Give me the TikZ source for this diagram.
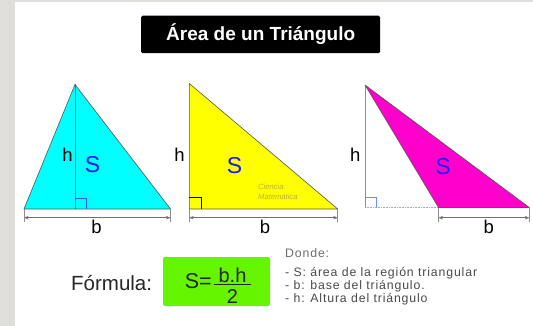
\documentclass[tikz,border=0pt]{standalone}
\usepackage{fontspec}
\setmainfont{Liberation Sans}
\usetikzlibrary{arrows.meta}
\definecolor{bggray}{HTML}{E0DEDA}
\definecolor{cyanfill}{HTML}{00FFFF}
\definecolor{yellowfill}{HTML}{FFFF00}
\definecolor{magentafill}{HTML}{FF00CC}
\definecolor{greenbox}{HTML}{66F500}
\definecolor{slabel}{HTML}{1A1AF0}
\definecolor{hline}{HTML}{2266FF}
\definecolor{hlinelight}{HTML}{7788FF}
\definecolor{outline}{HTML}{555555}
\definecolor{dimgray}{HTML}{707070}
\definecolor{txtgray}{HTML}{4A4A4A}
\definecolor{wmark}{HTML}{BDAE3A}
\tikzset{
  tri/.style={draw=outline, line width=0.6pt, line join=round},
  hgt/.style={draw=hline, line width=0.7pt},
  rangle/.style={line width=0.6pt},
  dim/.style={draw=dimgray, line width=0.6pt, {Stealth[length=4.5pt,width=3.5pt]}-{Stealth[length=4.5pt,width=3.5pt]}},
  tick/.style={draw=dimgray!80, line width=0.6pt},
  lbl/.style={inner sep=0pt, font=\fontsize{18.5}{20}\selectfont, text=black},
  slbl/.style={inner sep=0pt, font=\fontsize{23}{24}\selectfont, text=slabel},
  small/.style={inner sep=0pt, anchor=west, text=txtgray, font=\fontsize{12.3}{13}\selectfont\addfontfeature{LetterSpace=7}},
}
\begin{document}
\begin{tikzpicture}[x=1pt,y=-1pt]
\useasboundingbox (0,0) rectangle (533,326);
\fill[bggray] (0,0) rectangle (533,326);
\fill[white] (15,2.5) rectangle (533,326);

% title
\node[fill=black, rounded corners=1.5pt, minimum width=239pt, minimum height=37.5pt, inner sep=0pt,
      text=white, font=\bfseries\fontsize{19}{20}\selectfont] (title) at (260.7,34.5) {Área de un Triángulo};

% ---- triangle 1 (cyan)
\coordinate (c1a) at (75,84.5);
\coordinate (c1l) at (24,209);
\coordinate (c1r) at (170.5,209);
\coordinate (c1f) at (75,209);
\fill[cyanfill] (c1a) -- (c1l) -- (c1r) -- cycle;
\draw[hgt] (c1a) -- (c1f);
\draw[hline, rangle] (75,198.5) -- (86,198.5) -- (86,209);
\draw[tri] (c1a) -- (c1l) -- (c1r) -- cycle;
\draw[tick] (c1l) -- ++(0,13);
\draw[tick] (c1r) -- ++(0,13);
\coordinate (c1dl) at (24,217.7);
\coordinate (c1dr) at (170.5,217.7);
\draw[dim] (c1dl) -- (c1dr);
\node[lbl] (h1) at (67.5,155) {h};
\node[slbl] (s1) at (92.5,165) {S};
\node[lbl] (b1) at (96.5,227) {b};

% ---- triangle 2 (yellow)
\coordinate (c2a) at (189.3,83.5);
\coordinate (c2l) at (189.3,209);
\coordinate (c2r) at (337.7,209);
\fill[yellowfill] (c2a) -- (c2l) -- (c2r) -- cycle;
\draw[black, rangle] (189.3,197.5) -- (201,197.5) -- (201,209);
\draw[tri] (c2a) -- (c2l) -- (c2r) -- cycle;
\draw[tick] (c2l) -- ++(0,13);
\draw[tick] (c2r) -- ++(0,13);
\coordinate (c2dl) at (189.3,217.7);
\coordinate (c2dr) at (337.7,217.7);
\draw[dim] (c2dl) -- (c2dr);
\node[lbl] (h2) at (179.5,155) {h};
\node[slbl] (s2) at (234.5,166) {S};
\node[lbl] (b2) at (265,227) {b};
\node[inner sep=0pt, text=wmark, font=\itshape\fontsize{7.6}{9.5}\selectfont, align=left, anchor=west] (wm) at (258,192) {Ciencia\\Matemática};

% ---- triangle 3 (magenta)
\coordinate (c3a) at (365,85);
\coordinate (c3l) at (438.5,207.5);
\coordinate (c3r) at (529.3,207.5);
\coordinate (c3f) at (365,207.5);
\draw[draw=gray!70, line width=0.6pt, densely dotted] (c3f) -- (c3l);
\draw[draw=hlinelight, line width=0.7pt] (c3a) -- (c3f);
\draw[hlinelight, rangle] (365,197.5) -- (376.5,197.5) -- (376.5,207.5);
\fill[magentafill] (c3a) -- (c3l) -- (c3r) -- cycle;
\draw[tri] (c3a) -- (c3l) -- (c3r) -- cycle;
\draw[tick] (c3l) -- ++(0,14);
\draw[tick] (c3r) -- ++(0,14);
\coordinate (c3dl) at (438.5,217.7);
\coordinate (c3dr) at (529.3,217.7);
\draw[dim] (c3dl) -- (c3dr);
\node[lbl] (h3) at (355.3,155) {h};
\node[slbl] (s3) at (443,167) {S};
\node[lbl] (b3) at (488.7,227) {b};

% ---- formula
\node[inner sep=0pt, text=black!85, font=\fontsize{20.5}{22}\selectfont, anchor=west] (form) at (71,283.5) {Fórmula:};
\node[fill=greenbox, rounded corners=2pt, minimum width=107pt, minimum height=49pt, inner sep=0pt] (gbox) at (216.5,281.5) {};
\node[inner sep=0pt, text=black!85, font=\fontsize{21.5}{22}\selectfont, anchor=east] (seq) at (212,281) {S=};
\node[inner sep=0pt, text=black!85, font=\fontsize{20}{22}\selectfont] (num) at (232.5,275.5) {b.h};
\node[inner sep=0pt, text=black!85, font=\fontsize{20}{22}\selectfont] (den) at (232.5,297) {2};
\coordinate (barl) at (214,284.5);
\coordinate (barr) at (251,284.5);
\draw[black!85, line width=1.2pt] (barl) -- (barr);

% ---- explanation
\node[small, text=txtgray!80] (donde) at (285,253) {Donde:};
\node[small] (l1) at (285,273) {- S: área de la región triangular};
\node[small] (l2) at (285,286) {- b: base del triángulo.};
\node[small] (l3) at (285,299) {- h: Altura del triángulo};
\end{tikzpicture}
\end{document}
